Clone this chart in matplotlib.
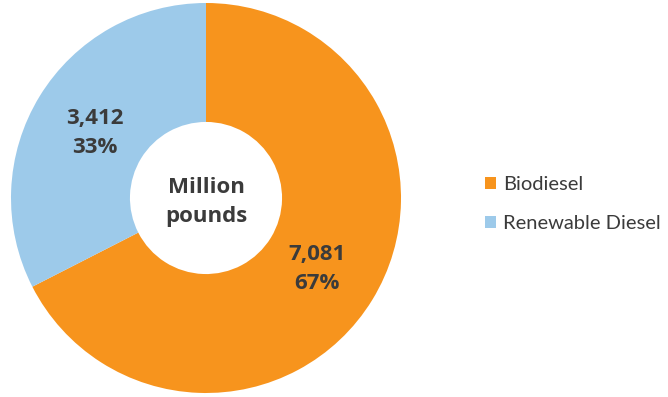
import numpy as np
import matplotlib
matplotlib.use("Agg")
import matplotlib.pyplot as plt

plt.rcParams['font.family'] = ['Open Sans', 'DejaVu Sans']

fuel_types = ["Biodiesel", "Renewable Diesel"]
pounds = [7081, 3412]
shares = ["67%", "33%"]
colors = ["#F7941D", "#9DCAEA"]
text_color = "#3b3b3b"

fig = plt.figure(figsize=(6.68, 3.97), dpi=100)
ax = fig.add_axes([11 / 668, 4 / 397, 390 / 668, 390 / 397])

wedges, _ = ax.pie(pounds, colors=colors, startangle=90, counterclock=False,
                   radius=1, wedgeprops=dict(width=0.61, linewidth=0))
ax.set_xlim(-1, 1)
ax.set_ylim(-1, 1)
ax.set_aspect("equal")
ax.axis("off")

# value + percent labels in the middle of each ring segment
for w, val, pct in zip(wedges, pounds, shares):
    mid = np.deg2rad((w.theta1 + w.theta2) / 2)
    r = 0.67
    ax.text(r * np.cos(mid), r * np.sin(mid) - 0.015, f"{val:,}\n{pct}",
            ha="center", va="center", fontsize=16, fontweight="bold",
            color=text_color, linespacing=1.5)

ax.text(0, -0.02, "Million\npounds", ha="center", va="center", fontsize=16,
        fontweight="bold", color=text_color, linespacing=1.5)

leg = fig.legend(wedges, fuel_types, loc="center left",
                 bbox_to_anchor=(467 / 668, 1 - 204 / 397),
                 frameon=False, prop={"family": "Lato", "size": 14.5},
                 handlelength=0.55, handleheight=0.55,
                 handletextpad=0.35, labelspacing=1.1, labelcolor=text_color)

fig.savefig("out.png", dpi=100)
